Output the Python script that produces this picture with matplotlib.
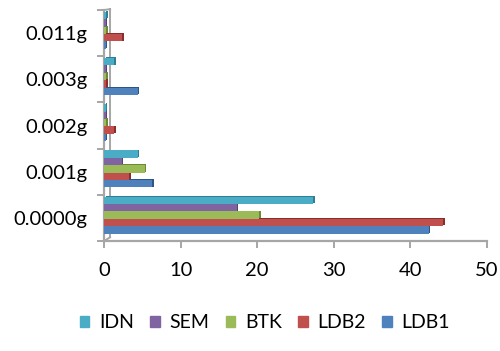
import matplotlib.pyplot as plt
import matplotlib.patheffects as pe
from matplotlib.patches import Patch
import numpy as np

plt.rcParams['font.family'] = ['Lato', 'DejaVu Sans']

# Data
categories = ["0.0000g", "0.001g", "0.002g", "0.003g", "0.011g"]
series_names = ["LDB1", "LDB2", "BTK", "SEM", "IDN"]
ldb1 = [42.4, 6.3, 0.2, 4.4, 0.2]
ldb2 = [44.3, 3.3, 1.3, 0.3, 2.4]
btk = [20.3, 5.3, 0.3, 0.3, 0.3]
sem = [17.3, 2.3, 0.2, 0.2, 0.2]
idn = [27.3, 4.4, 0.2, 1.3, 0.3]
values = [ldb1, ldb2, btk, sem, idn]
colors = ["#4F81BD", "#C0504D", "#9BBB59", "#8064A2", "#4BACC6"]
shades = ["#2F5587", "#8C2D2A", "#6C8A35", "#56407A", "#2D7F96"]

fig = plt.figure(figsize=(5, 3.51), dpi=100)
ax = fig.add_axes([0.208, 0.3134, 0.766, 0.658])

y = np.arange(len(categories))
h = 0.16
for i, vals in enumerate(values):
    pos = y + (i - 2) * h + 0.06
    bars = ax.barh(pos, vals, height=h, color=colors[i], zorder=3)
    for b in bars:
        b.set_path_effects([pe.SimplePatchShadow(offset=(1.2, 0.6), shadow_rgbFace=shades[i], alpha=1),
                            pe.Normal()])

ax.set_xlim(0, 50)
ax.set_ylim(-0.5, 4.5)
ax.set_xticks(range(0, 51, 10))
ax.set_yticks(y)
ax.set_yticklabels(categories)
ax.set_yticks(np.arange(-0.5, 4.6, 1), minor=True)

for s in ["top", "right"]:
    ax.spines[s].set_visible(False)
for s in ["left", "bottom"]:
    ax.spines[s].set_color("#A6A6A6")
    ax.spines[s].set_linewidth(1.6)

ax.tick_params(axis="x", length=5, width=1.4, color="#A6A6A6", pad=10, labelsize=14.5)
ax.tick_params(axis="y", which="major", length=0, pad=12, labelsize=14.5)
ax.tick_params(axis="y", which="minor", length=5, width=1.4, color="#A6A6A6")

# back edge of the side wall
ax.plot([0, 0.8], [-0.5, -0.42], color="#A6A6A6", lw=1.4, clip_on=False, zorder=2)
ax.plot([0.8, 0.8], [-0.42, 4.52], color="#A6A6A6", lw=1.4, clip_on=False, zorder=2)
ax.plot([0, 0.8], [4.5, 4.52], color="#A6A6A6", lw=1.4, clip_on=False, zorder=2)

handles = [Patch(color=c, label=n) for c, n in zip(colors, series_names)]
fig.legend(handles[::-1], series_names[::-1], loc="center", bbox_to_anchor=(0.53, 0.08), ncol=5,
           frameon=False, fontsize=14, handlelength=0.48, handleheight=0.48,
           handletextpad=0.5, columnspacing=0.85)

fig.savefig("out.png", dpi=100)
